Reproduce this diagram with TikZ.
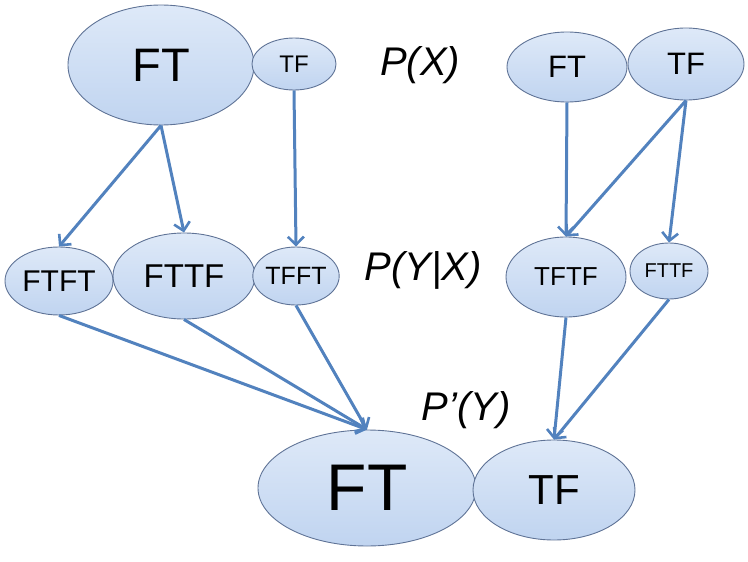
\documentclass[tikz,border=0pt]{standalone}
\usepackage{fontspec}
\setmainfont{Liberation Sans}
\usetikzlibrary{shapes.geometric,arrows.meta}
\definecolor{arrowblue}{RGB}{82,130,190}
\definecolor{ellborder}{RGB}{95,115,150}
\definecolor{elltop}{RGB}{222,233,248}
\definecolor{ellbot}{RGB}{192,212,240}
\newcommand{\fs}[1]{\fontsize{#1}{#1}\selectfont}
\tikzset{
  state/.style={ellipse, draw=ellborder, line width=0.9pt,
    top color=elltop, bottom color=ellbot, inner sep=0pt, text=black},
  link/.style={draw=arrowblue, line width=3pt,
    -{Straight Barb[length=8pt,width=16pt,line width=2.6pt]}},
  prob/.style={font=\itshape\fs{40}, text=black}
}
\begin{document}
\begin{tikzpicture}[x=1pt,y=-1pt]
\useasboundingbox (0,0) rectangle (748,562);

% prior P(X), left branch
\node[state, minimum width=186, minimum height=120, font=\fs{47}] (ft1) at (161,65) {FT};
\node[state, minimum width=84, minimum height=52, font=\fs{24}] (tf1) at (294,64) {TF};
% prior P(X), right branch
\node[state, minimum width=120, minimum height=70, font=\fs{31}] (ft2) at (567,67) {FT};
\node[state, minimum width=116, minimum height=72, font=\fs{31}] (tf2) at (686,64) {TF};

% conditional P(Y|X), left branch
\node[state, minimum width=108, minimum height=68, font=\fs{30}] (ftft) at (59,281) {FTFT};
\node[state, minimum width=142, minimum height=86, font=\fs{33}] (fttf1) at (184,276) {FTTF};
\node[state, minimum width=82, minimum height=58, font=\fs{25}] (tfft) at (296,276) {TFFT};
% conditional P(Y|X), right branch
\node[state, minimum width=120, minimum height=80, font=\fs{26}] (tftf) at (566,277) {TFTF};
\node[state, minimum width=78, minimum height=56, font=\fs{20}] (fttf2) at (669,271) {FTTF};

% marginal P'(Y)
\node[state, minimum width=218, minimum height=116, font=\fs{66}] (ft3) at (367,488) {FT};
\node[state, minimum width=162, minimum height=100, font=\fs{42}] (tf3) at (554,490) {TF};

% row labels
\node[prob] (px) at (420,65) {P(X)};
\node[prob] (pyx) at (423,270) {P(Y|X)};
\node[prob] (ppy) at (466,410) {P’(Y)};

% transitions X -> Y
\draw[link] (ft1.south) -- (ftft.north);
\draw[link] (ft1.south) -- (fttf1.north);
\draw[link] (tf1.south) -- (tfft.north);
\draw[link] (ft2.south) -- (tftf.north);
\draw[link] (tf2.south) -- (tftf.north);
\draw[link] (tf2.south) -- (fttf2.north);

% marginalisation Y -> P'(Y)
\draw[link] (ftft.south) -- (ft3.north);
\draw[link] (fttf1.south) -- (ft3.north);
\draw[link] (tfft.south) -- (ft3.north);
\draw[link] (tftf.south) -- (tf3.north);
\draw[link] (fttf2.south) -- (tf3.north);
\end{tikzpicture}
\end{document}
